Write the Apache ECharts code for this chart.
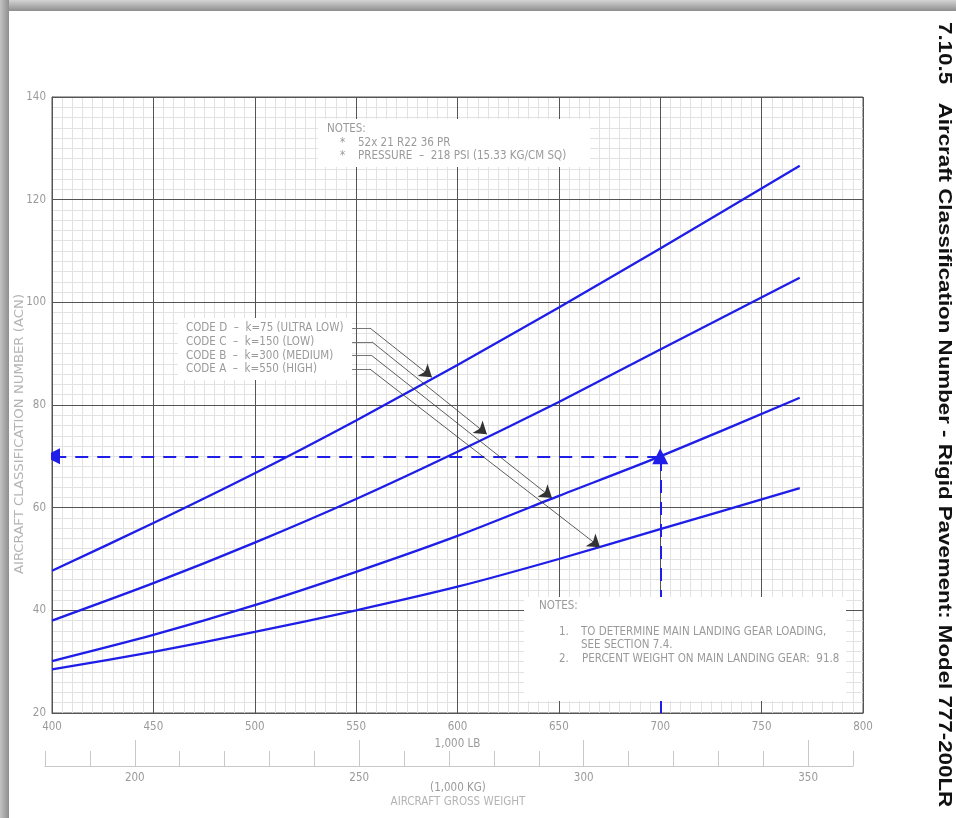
<!DOCTYPE html>
<html>
<head>
<meta charset="utf-8">
<title>ACN - Rigid Pavement: Model 777-200LR</title>
<script src="https://cdn.jsdelivr.net/npm/echarts@6/dist/echarts.min.js"></script>
<style>
  html, body { margin: 0; padding: 0; background: #fff; }
  #chart { width: 956px; height: 818px; }
</style>
</head>
<body>
<div id="chart"></div>
<script>
// gross weight, 1,000 LB
const weightLb = [400, 450, 500, 550, 600, 650, 700, 768.8]
// ACN per subgrade code
const codeD = [47.7, 57, 66.7, 77, 87.8, 99, 110.5, 126.6]
const codeC = [38, 45.3, 53.2, 61.7, 70.9, 80.6, 90.8, 104.8]
const codeB = [30.1, 35.2, 41, 47.5, 54.5, 62.3, 70, 81.4]
const codeA = [28.5, 31.9, 35.8, 40, 44.6, 50, 55.8, 63.8]

const lbTicks = [400, 800, 50]      // min, max, step
const kgTicks = [180, 360, 10]
const kgLabels = [200, 250, 300, 350]
const acnTicks = [20, 140, 20]

// worked example: 700,000 lb on code B -> ACN 70
const exampleLb = 700
const exampleAcn = 70

// leader lines: label end, bend, arrow tip (on the curve)
const leaderD = [[548, 95], [556.8, 95], [587.4, 85.4]]
const leaderC = [[548, 92.3], [557.8, 92.3], [614.5, 74.3]]
const leaderB = [[548, 89.6], [557.8, 89.6], [646.6, 61.9]]
const leaderA = [[548, 87], [556.8, 87], [670.3, 52.3]]
const leaders = [leaderD, leaderC, leaderB, leaderA]

const codeLabels = [
  'CODE D  –  k=75 (ULTRA LOW)',
  'CODE C  –  k=150 (LOW)',
  'CODE B  –  k=300 (MEDIUM)',
  'CODE A  –  k=550 (HIGH)'
]

const cadFont = "'Liberation Sans Narrow', 'DejaVu Sans Condensed', sans-serif"
const grey = '#9a9a9a'
const blue = '#1e1ee8'
const major = '#555'

const zip = (xs, ys) => xs.map((x, i) => [x, ys[i]])

const curve = (name, vals) => ({
  name,
  type: 'line',
  xAxisIndex: 0,
  yAxisIndex: 0,
  data: zip(weightLb, vals),
  smooth: 0.25,
  showSymbol: false,
  lineStyle: { color: blue, width: 2.3 },
  z: 2
})

const chart = echarts.init(document.getElementById('chart'), null, { renderer: 'canvas' })

const txt = (x, y, text, extra) => ({
  type: 'text',
  x, y, z: 6,
  style: Object.assign({ text, fill: grey, font: '11.5px ' + cadFont, textVerticalAlign: 'middle' }, extra || {})
})

// minor grid only (drawn first)
const minorX = {
  type: 'value', gridIndex: 0,
  min: lbTicks[0], max: lbTicks[1], interval: lbTicks[2],
  name: '1,000 LB', nameLocation: 'middle', nameGap: 23,
  nameTextStyle: { color: grey, fontSize: 11.5, fontFamily: cadFont },
  axisLine: { show: true, lineStyle: { color: major } },
  axisTick: { show: false },
  axisLabel: { color: grey, fontSize: 11.5, margin: 8 },
  splitLine: { show: false },
  minorTick: { show: false, splitNumber: 10 },
  minorSplitLine: { show: true, lineStyle: { color: '#e2e2e2', width: 1 } },
  z: 0
}
const minorY = {
  type: 'value', gridIndex: 0,
  min: acnTicks[0], max: acnTicks[1], interval: acnTicks[2],
  axisLine: { show: true, lineStyle: { color: major } },
  axisTick: { show: false },
  axisLabel: { color: grey, fontSize: 11.5, margin: 6 },
  splitLine: { show: false },
  minorTick: { show: false, splitNumber: 10 },
  minorSplitLine: { show: true, lineStyle: { color: '#e2e2e2', width: 1 } },
  z: 0
}
// major grid on top of the minor one
const majorAxis = (ticks) => ({
  type: 'value', gridIndex: 0,
  min: ticks[0], max: ticks[1], interval: ticks[2],
  axisLine: { show: false }, axisTick: { show: false }, axisLabel: { show: false },
  splitLine: { show: true, lineStyle: { color: major, width: 1 } },
  z: 1
})

chart.setOption({
  backgroundColor: '#fff',
  animation: false,
  textStyle: { fontFamily: cadFont },
  grid: [
    { left: 52, top: 97, width: 811, height: 616, show: true, borderColor: major, borderWidth: 1, backgroundColor: 'transparent' },
    { left: 45, top: 740, width: 808, height: 26, show: false }
  ],
  xAxis: [
    minorX,
    {
      type: 'value', gridIndex: 1,
      min: kgTicks[0], max: kgTicks[1], interval: kgTicks[2],
      axisLine: { show: true, lineStyle: { color: '#c8c8c8' } },
      axisTick: { show: true, inside: true, length: 15, lineStyle: { color: '#c8c8c8' } },
      axisLabel: {
        color: grey, fontSize: 11.5, margin: 6,
        formatter: v => (kgLabels.indexOf(v) >= 0 ? String(v) : '')
      },
      splitLine: { show: false }
    },
    {
      type: 'value', gridIndex: 1,
      min: kgTicks[0], max: kgTicks[1], interval: kgTicks[2],
      axisLine: { show: false },
      axisTick: { show: true, inside: true, length: 26, customValues: kgLabels, lineStyle: { color: '#c8c8c8' } },
      axisLabel: { show: false },
      splitLine: { show: false }
    },
    majorAxis(lbTicks)
  ],
  yAxis: [
    minorY,
    { type: 'value', gridIndex: 1, show: false, min: 0, max: 1 },
    majorAxis(acnTicks)
  ],
  series: [
    curve('CODE D', codeD),
    curve('CODE C', codeC),
    curve('CODE B', codeB),
    curve('CODE A', codeA),
    {
      type: 'lines',
      coordinateSystem: 'cartesian2d',
      xAxisIndex: 0, yAxisIndex: 0,
      z: 2,
      symbol: ['none', 'triangle'],
      symbolSize: 16,
      lineStyle: { color: blue, width: 2, type: [13, 9], opacity: 1 },
      data: [
        { coords: [[exampleLb, acnTicks[0]], [exampleLb, exampleAcn]] },
        { coords: [[exampleLb, exampleAcn], [lbTicks[0], exampleAcn]] }
      ]
    },
    {
      // short horizontal stubs from the labels
      type: 'lines',
      coordinateSystem: 'cartesian2d',
      xAxisIndex: 0, yAxisIndex: 0,
      z: 4,
      symbol: 'none',
      lineStyle: { color: '#666', width: 0.9, opacity: 1 },
      data: leaders.map(c => ({ coords: [c[0], c[1]] }))
    },
    {
      // diagonal leaders with arrowheads
      type: 'lines',
      coordinateSystem: 'cartesian2d',
      xAxisIndex: 0, yAxisIndex: 0,
      z: 4,
      symbol: ['none', 'arrow'],
      symbolSize: 12,
      lineStyle: { color: '#333', width: 0.8, opacity: 1 },
      data: leaders.map(c => ({ coords: [c[1], c[2]] }))
    }
  ],
  graphic: [
    // page frame shadow
    {
      type: 'rect', z: 10,
      shape: { x: 0, y: 0, width: 956, height: 11 },
      style: { fill: new echarts.graphic.LinearGradient(0, 0, 0, 1, [
        { offset: 0, color: '#d4d4d4' }, { offset: 1, color: '#8e8e8e' }]) }
    },
    {
      type: 'rect', z: 10,
      shape: { x: 0, y: 0, width: 9, height: 818 },
      style: { fill: new echarts.graphic.LinearGradient(0, 0, 1, 0, [
        { offset: 0, color: '#c4c4c4' }, { offset: 1, color: '#8e8e8e' }]) }
    },
    // white note boxes over the grid
    { type: 'rect', z: 3, shape: { x: 318, y: 119, width: 272, height: 48 }, style: { fill: '#fff' } },
    { type: 'rect', z: 3, shape: { x: 178, y: 318, width: 174, height: 62 }, style: { fill: '#fff' } },
    { type: 'rect', z: 3, shape: { x: 524, y: 597, width: 322, height: 104 }, style: { fill: '#fff' } },

    txt(327, 129, 'NOTES:'),
    txt(340, 143, '*'),
    txt(358, 143, '52x 21 R22 36 PR'),
    txt(340, 156, '*'),
    txt(358, 156, 'PRESSURE  –  218 PSI (15.33 KG/CM SQ)'),

    txt(186, 328, codeLabels[0]),
    txt(186, 342, codeLabels[1]),
    txt(186, 356, codeLabels[2]),
    txt(186, 369, codeLabels[3]),

    txt(539, 606, 'NOTES:'),
    txt(559, 632, '1.'),
    txt(581, 632, 'TO DETERMINE MAIN LANDING GEAR LOADING,'),
    txt(581, 645, 'SEE SECTION 7.4.'),
    txt(559, 659, '2.'),
    txt(582, 659, 'PERCENT WEIGHT ON MAIN LANDING GEAR:  91.8'),

    txt(458, 788, '(1,000 KG)', { textAlign: 'center' }),
    txt(458, 802, 'AIRCRAFT GROSS WEIGHT', { textAlign: 'center', fill: '#b4b4b4' }),

    {
      type: 'text', z: 6, x: 20, y: 434, rotation: Math.PI / 2, scaleX: 1.28,
      style: { text: 'AIRCRAFT CLASSIFICATION NUMBER (ACN)', fill: '#b4b4b4', font: '11.5px ' + cadFont,
        textAlign: 'center', textVerticalAlign: 'middle' }
    },
    {
      type: 'text', z: 6, x: 944, y: 22, rotation: -Math.PI / 2, scaleX: 1.24,
      style: { text: '7.10.5   Aircraft Classification Number - Rigid Pavement: Model 777-200LR',
        fill: '#111', font: 'bold 18px "Liberation Sans", Arial, sans-serif',
        textAlign: 'left', textVerticalAlign: 'middle' }
    }
  ]
})
</script>
</body>
</html>
